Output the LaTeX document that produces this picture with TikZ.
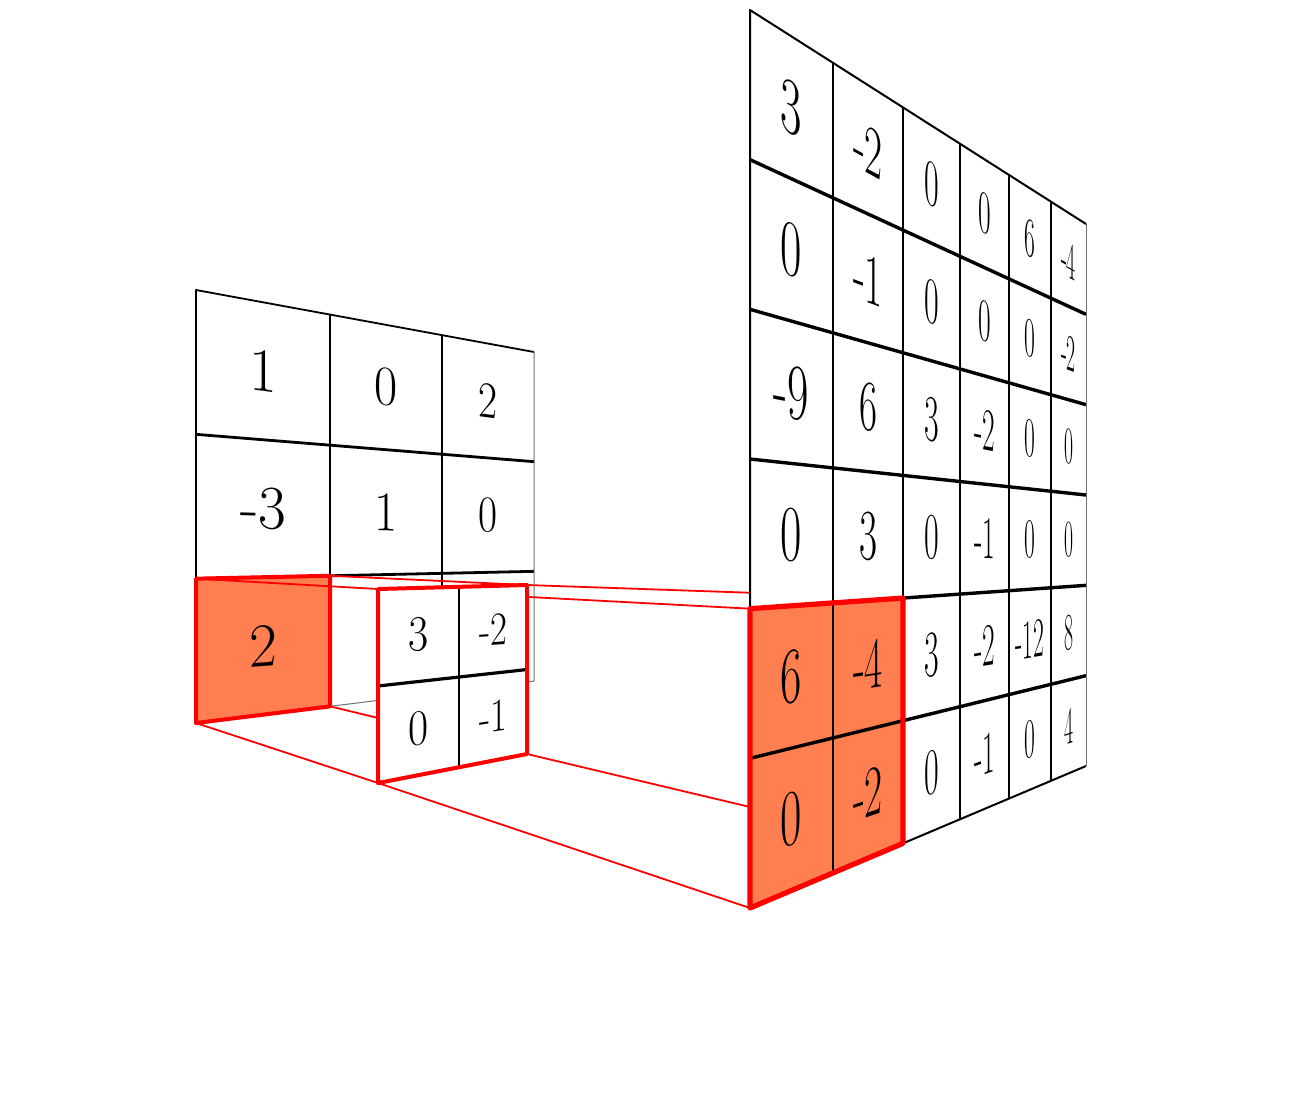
\documentclass[tikz,border=0pt]{standalone}
\usetikzlibrary{calc}
\definecolor{coralfill}{RGB}{255,127,80}
\definecolor{pred}{RGB}{255,0,0}
\tikzset{
  rowline/.style={line width=1.7pt,black},
  colline/.style={line width=1.1pt,black},
  edgeline/.style={line width=1pt,black,line join=round},
  faintedge/.style={line width=0.5pt,black!55},
  redframe/.style={line width=2pt,pred,line join=round},
  redbig/.style={line width=2.6pt,pred,line join=round},
  frust/.style={line width=0.9pt,pred},
  numtxt/.style={transform shape,inner sep=0pt}
}
\newcommand\setgrid[8]{\def\GxL{#1}\def\GxR{#2}\def\GyTL{#3}\def\GyBL{#4}\def\GyTR{#5}\def\GyBR{#6}\def\Gn{#7}\def\Gcols{#8}}
\newcommand\mkpoints[1]{%
  \foreach \xx [count=\ii from 0] in \Gcols {%
    \pgfmathsetmacro\myt{(\xx-\GxL)/(\GxR-\GxL)}%
    \pgfmathsetmacro\myyt{\GyTL+(\GyTR-\GyTL)*\myt}%
    \pgfmathsetmacro\myyb{\GyBL+(\GyBR-\GyBL)*\myt}%
    \foreach \jj in {0,...,\Gn} {%
      \pgfmathsetmacro\myyy{\myyt+(\myyb-\myyt)*\jj/\Gn}%
      \coordinate (#1-\ii-\jj) at (\xx,\myyy);%
    }%
  }%
}
\newcommand\mktext[3]{%
  \foreach \rowvals [count=\jj from 0] in {#3} {%
    \foreach \val [count=\ii from 0] in \rowvals {%
      \pgfmathsetmacro\xa{{\Gcols}[\ii]}%
      \pgfmathsetmacro\xb{{\Gcols}[\ii+1]}%
      \pgfmathsetmacro\xm{(\xa+\xb)/2}%
      \pgfmathsetmacro\myt{(\xm-\GxL)/(\GxR-\GxL)}%
      \pgfmathsetmacro\myyt{\GyTL+(\GyTR-\GyTL)*\myt}%
      \pgfmathsetmacro\myyb{\GyBL+(\GyBR-\GyBL)*\myt}%
      \pgfmathsetmacro\hh{(\myyb-\myyt)/\Gn}%
      \pgfmathsetmacro\yc{\myyt+(\jj+0.5)*\hh}%
      \pgfmathsetmacro\kimg{((\GyTR-\GyTL)+(\jj+0.5)*((\GyBR-\GyTR)-(\GyBL-\GyTL))/\Gn)/(\GxR-\GxL)}%
      \pgfmathsetmacro\sx{(\xb-\xa)*0.5/50}%
      \pgfmathsetmacro\sy{\hh*0.5/50}%
      \pgfmathsetmacro\bb{-1*(\kimg)*\sx}%
      \begin{scope}[shift={(\xm,\yc)}]
        \node[numtxt,cm={\sx,\bb,0,\sy,(0,0)},font=\fontsize{#2}{#2}\selectfont] (#1-t-\ii-\jj) at (0,0) {\val};
      \end{scope}
    }%
  }%
}
\begin{document}
\begin{tikzpicture}[x=0.5pt,y=-0.5pt]
\useasboundingbox (0,0) rectangle (1299,1108);
\fill[white] (0,0) rectangle (1299,1108);

% ---------- input grid ----------
\setgrid{196}{534}{290}{723}{352}{681}{3}{196,330,442,534}
\mkpoints{in}
\fill[white] (in-0-0) -- (in-3-0) -- (in-3-3) -- (in-0-3) -- cycle;
\fill[coralfill] (in-0-2) -- (in-1-2) -- (in-1-3) -- (in-0-3) -- cycle;
\foreach \jj in {1,2} \draw[line width=1.4pt] (in-0-\jj) -- (in-3-\jj);
\foreach \ii in {1,2} \draw[line width=1pt] (in-\ii-0) -- (in-\ii-3);
\draw[line width=0.9pt,line join=round] (in-0-3) -- (in-0-0) -- (in-3-0);
\draw[faintedge] (in-3-0) -- (in-3-3) -- (in-0-3);
\mktext{in}{22.5}{{1,0,2},{-3,1,0},{2}}
\draw[redframe] (in-0-2) -- (in-1-2) -- (in-1-3) -- (in-0-3) -- cycle;

% ---------- kernel grid points ----------
\setgrid{378}{527}{589}{783}{585}{754}{2}{378,459,527}
\mkpoints{k}

% ---------- output grid points ----------
\setgrid{750}{1086}{10}{908}{224}{766}{6}{750,833,903,960,1009,1051,1086}
\mkpoints{o}

% ---------- frustum lines ----------
\draw[frust] (in-0-2) -- (k-0-0) -- (o-0-4);
\draw[frust] (in-1-2) -- (k-2-0) -- (o-2-4);
\draw[frust] (in-0-3) -- (k-0-2) -- (o-0-6);
\draw[frust] (in-1-3) -- (k-2-2) -- (o-2-6);

% ---------- kernel ----------
\setgrid{378}{527}{589}{783}{585}{754}{2}{378,459,527}
\fill[white] (k-0-0) -- (k-2-0) -- (k-2-2) -- (k-0-2) -- cycle;
\draw[line width=1.6pt] (k-0-1) -- (k-2-1);
\draw[line width=1.3pt] (k-1-0) -- (k-1-2);
\mktext{k}{27}{{3,-2},{0,-1}}
\draw[redframe] (k-0-0) -- (k-2-0) -- (k-2-2) -- (k-0-2) -- cycle;

% ---------- output grid ----------
\setgrid{750}{1086}{10}{908}{224}{766}{6}{750,833,903,960,1009,1051,1086}
\fill[white] (o-0-0) -- (o-6-0) -- (o-6-6) -- (o-0-6) -- cycle;
\fill[coralfill] (o-0-4) -- (o-2-4) -- (o-2-6) -- (o-0-6) -- cycle;
\foreach \jj in {1,...,5} \draw[rowline] (o-0-\jj) -- (o-6-\jj);
\foreach \ii in {1,...,5} \draw[colline] (o-\ii-0) -- (o-\ii-6);
\draw[edgeline] (o-0-6) -- (o-0-0) -- (o-6-0);
\draw[edgeline] (o-0-6) -- (o-6-6);
\draw[faintedge] (o-6-0) -- (o-6-6);
\mktext{o}{28}{{3,-2,0,0,6,-4},{0,-1,0,0,0,-2},{-9,6,3,-2,0,0},{0,3,0,-1,0,0},{6,-4,3,-2,-12,8},{0,-2,0,-1,0,4}}
\draw[redbig] (o-0-4) -- (o-2-4) -- (o-2-6) -- (o-0-6) -- cycle;
\end{tikzpicture}
\end{document}
